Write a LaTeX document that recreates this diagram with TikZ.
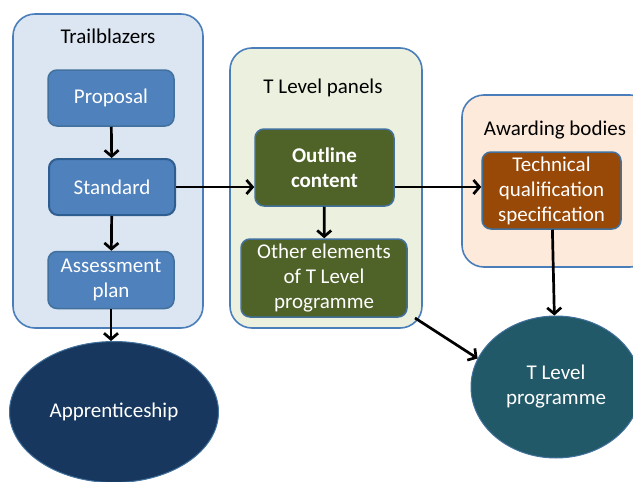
\documentclass[tikz,border=0pt]{standalone}
\usepackage{fontspec}
\setmainfont{Carlito}
\usetikzlibrary{shapes.geometric,arrows.meta}
\definecolor{grpline}{HTML}{4A7EBB}
\definecolor{boxline}{HTML}{41719C}
\definecolor{tbfill}{HTML}{DCE6F2}
\definecolor{panelfill}{HTML}{EBF1DE}
\definecolor{abfill}{HTML}{FDEADA}
\definecolor{stepblue}{HTML}{4F81BD}
\definecolor{stepline}{HTML}{2E5D8F}
\definecolor{stepolive}{HTML}{4F6228}
\definecolor{stepbrown}{HTML}{984807}
\definecolor{apprfill}{HTML}{17375E}
\definecolor{tlfill}{HTML}{215968}

\begin{document}
\begin{tikzpicture}[x=1pt,y=-1pt,
	font=\fontsize{21}{25}\selectfont,
	group/.style={draw=grpline, line width=1.6pt, rounded corners=22pt},
	title/.style={text=black},
	stepbox/.style={draw=boxline, line width=1.5pt, rounded corners=9pt, text=white, align=center, inner sep=0pt},
	endpoint/.style={ellipse, draw=boxline, line width=1pt, text=white, align=center, inner sep=0pt},
	arr/.style={-{Straight Barb[length=6pt,width=14pt]}, line width=2.7pt}]
			\useasboundingbox (0,0) rectangle (633,482);
			% Trailblazers
			\node[group, fill=tbfill, minimum width=190pt, minimum height=314pt] (trail) at (108,171) {};
			\node[title] (trailtitle) at (108,36) {Trailblazers};
			\node[stepbox, fill=stepblue, minimum width=126pt, minimum height=56pt] (proposal) at (111,98) {Proposal};
			\node[stepbox, fill=stepblue, draw=stepline, line width=2pt, minimum width=126pt, minimum height=56pt] (standard) at (112,187) {Standard};
			\node[stepbox, fill=stepblue, minimum width=126pt, minimum height=57pt] (assess) at (111,280) {Assessment\\plan};
			\node[endpoint, fill=apprfill, minimum width=209pt, minimum height=141pt] (appr) at (114,412) {Apprenticeship};
			% T Level panels
			\node[group, fill=panelfill, minimum width=192pt, minimum height=280pt] (panels) at (326,188) {};
			\node[title] (panelstitle) at (323,88) {T Level panels};
			\node[stepbox, fill=stepolive, minimum width=139pt, minimum height=77pt, font=\fontsize{21}{25}\selectfont\bfseries] (outline) at (324.5,167.5) {Outline\\content};
			\node[stepbox, fill=stepolive, minimum width=166pt, minimum height=78pt] (other) at (324,278) {Other elements\\of T Level\\programme};
			% Awarding bodies
			\node[group, fill=abfill, minimum width=190pt, minimum height=172pt] (awarding) at (557,181) {};
			\node[title] (awardingtitle) at (555,130) {Awarding bodies};
			\node[stepbox, fill=stepbrown, minimum width=139pt, minimum height=77pt] (tech) at (551.5,190.5) {Technical\\qualification\\specification};
			\node[endpoint, fill=tlfill, minimum width=170pt, minimum height=142pt] (tlprog) at (556,387) {T Level\\programme};
			\coordinate (pcorner) at (415,318);
			% arrows
			\draw[arr] (proposal) -- (standard);
			\draw[arr] (standard) -- (assess);
			\draw[arr] (assess.south) -- (assess.south |- appr.north);
			\draw[arr] (standard.east) -- (standard.east -| outline.west);
			\draw[arr] (outline) -- (other);
			\draw[arr] (standard.east -| outline.east) -- (standard.east -| tech.west);
			\draw[arr] (tech) -- (tlprog);
			\draw[arr] (pcorner) -- (tlprog.160);
		\end{tikzpicture}
\end{document}
